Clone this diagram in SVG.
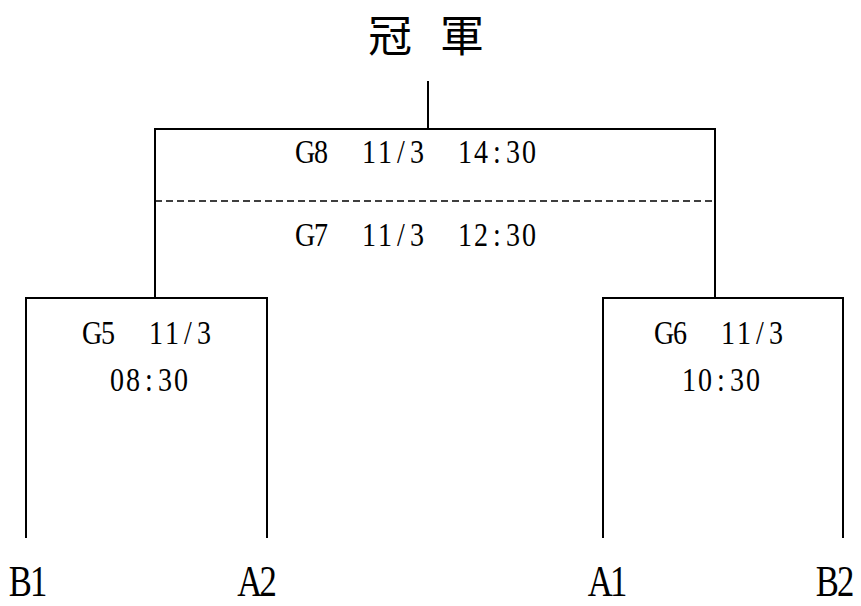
<svg xmlns="http://www.w3.org/2000/svg" width="861" height="606" viewBox="0 0 861 606">
<style>
.ln{fill:none;stroke:#000;stroke-width:2;stroke-linecap:square}
.dash{fill:none;stroke:#000;stroke-width:1.5;stroke-dasharray:7 4}
.t{font-family:"Liberation Serif","Times New Roman",serif;font-size:33px;fill:#000;text-anchor:middle}
.lb{font-family:"Liberation Serif","Times New Roman",serif;font-size:45px;fill:#000;text-anchor:middle}
.cjk{font-family:"Noto Sans CJK TC","Noto Sans CJK SC",sans-serif;font-size:44px;fill:#000;text-anchor:middle}
</style>
<rect width="861" height="606" fill="#fff"/>
<g id="connectors">
<path class="ln" d="M428 82V129"/>
<path class="ln" d="M155 129H715M155 129V298M715 129V298"/>
<path class="dash" d="M155 201H715"/>
<path class="ln" d="M26 298H267M26 298V537M267 298V537"/>
<path class="ln" d="M603 298H843M603 298V537M843 298V537"/>
</g>
<g id="champion">
<text class="cjk" x="390 462" y="52">冠軍</text>
</g>
<g id="final">
<text class="t" xml:space="preserve" transform="translate(297,163) scale(0.85,1)" x="9.41 28.24 47.06 65.88 84.71 103.53 122.35 141.18 160 178.82 197.65 216.47 235.29 254.12 272.94">G8  11/3  14:30</text>
<text class="t" xml:space="preserve" transform="translate(297,246) scale(0.85,1)" x="9.41 28.24 47.06 65.88 84.71 103.53 122.35 141.18 160 178.82 197.65 216.47 235.29 254.12 272.94">G7  11/3  12:30</text>
</g>
<g id="semi-left">
<text class="t" xml:space="preserve" transform="translate(84,344) scale(0.85,1)" x="9.41 28.24 47.06 65.88 84.71 103.53 122.35 141.18">G5  11/3</text>
<text class="t" transform="translate(109,391) scale(0.85,1)" x="9.41 28.24 47.06 65.88 84.71">08:30</text>
</g>
<g id="semi-right">
<text class="t" xml:space="preserve" transform="translate(656,344) scale(0.85,1)" x="9.41 28.24 47.06 65.88 84.71 103.53 122.35 141.18">G6  11/3</text>
<text class="t" transform="translate(681,391) scale(0.85,1)" x="9.41 28.24 47.06 65.88 84.71">10:30</text>
</g>
<g id="team-B1"><text class="lb" transform="translate(11,596) scale(0.77,1)" x="12 36">B1</text></g>
<g id="team-A2"><text class="lb" transform="translate(240.5,596) scale(0.77,1)" x="12 36">A2</text></g>
<g id="team-A1"><text class="lb" transform="translate(591,596) scale(0.77,1)" x="12 36">A1</text></g>
<g id="team-B2"><text class="lb" transform="translate(818,596) scale(0.77,1)" x="12 36">B2</text></g>
</svg>
